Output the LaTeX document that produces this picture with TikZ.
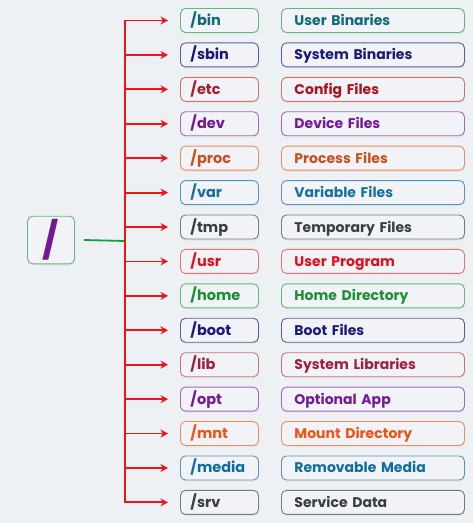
\documentclass[tikz,border=0pt]{standalone}
\usepackage{fontspec}
\setmainfont{Poppins}
\usetikzlibrary{arrows.meta,shadows}

% palette
\definecolor{bg}{HTML}{EEF1F4}
\definecolor{boxfill}{HTML}{F1F3F6}
\definecolor{linkred}{HTML}{F01418}
\definecolor{rootgreen}{HTML}{1E9A3C}
\definecolor{tTeal}{HTML}{0E6A7A}\definecolor{bGreen}{HTML}{62B67E}
\definecolor{tNavy}{HTML}{1A1A7E}\definecolor{bNavy}{HTML}{5A5AA6}
\definecolor{tWine}{HTML}{A21E30}\definecolor{bRose}{HTML}{C97378}
\definecolor{tCrimson}{HTML}{B0101C}
\definecolor{tPurple}{HTML}{741896}\definecolor{bPurple}{HTML}{A664C4}
\definecolor{tRust}{HTML}{C8501C}\definecolor{bPeach}{HTML}{EE8C62}
\definecolor{tBlue}{HTML}{1670A2}\definecolor{bBlue}{HTML}{5A94BA}
\definecolor{tGray}{HTML}{383D44}\definecolor{bGray}{HTML}{737A82}
\definecolor{tRed}{HTML}{E0101E}\definecolor{bRed}{HTML}{E27474}
\definecolor{tGreen}{HTML}{1A8E32}
\definecolor{tLib}{HTML}{A01E42}
\definecolor{tOrange}{HTML}{F05212}
\definecolor{tBlue2}{HTML}{0E6E9E}

\tikzset{
  basebox/.style={draw, rounded corners=5pt, line width=0.9pt, fill=boxfill,
    minimum height=24pt, anchor=west, align=left,
    text height=13pt, text depth=3pt, inner ysep=2pt,
    drop shadow={opacity=0.07, shadow xshift=0.8pt, shadow yshift=-1.8pt}},
  dirbox/.style={basebox, text width=58pt, inner xsep=10pt,
    font=\bfseries\fontsize{14.5}{16}\selectfont},
  descbox/.style={basebox, text width=157pt, inner xsep=13pt,
    font=\bfseries\fontsize{14}{16}\selectfont},
  rootbox/.style={draw=bGreen, rounded corners=5pt, line width=0.9pt, fill=boxfill,
    minimum width=47pt, minimum height=46pt,
    drop shadow={opacity=0.07, shadow xshift=0.8pt, shadow yshift=-1.8pt}},
  branch/.style={draw=linkred, line width=1.8pt},
  feed/.style={branch, -{Stealth[length=7.5pt,width=8pt]}, shorten >=12pt},
  rootlink/.style={draw=rootgreen, line width=1.8pt}
}

\begin{document}
\begin{tikzpicture}[x=1pt,y=-1pt]
  \fill[bg] (0,0) rectangle (473,523);
  \useasboundingbox (0,0) rectangle (473,523);

  % root directory
  \node[rootbox, text=tPurple, font=\bfseries\fontsize{36}{38}\selectfont] (root) at (51,240) {/};
  \coordinate (junction) at (125,241);
  \draw[rootlink] (root.east) ++(9pt,0) -- (junction);

  % directories and what they hold
  \foreach \i/\dir/\desc/\dt/\et/\bc in {
     1/bin/User Binaries/tTeal/tTeal/bGreen,
     2/sbin/System Binaries/tNavy/tNavy/bNavy,
     3/etc/Config Files/tWine/tCrimson/bRose,
     4/dev/Device Files/tPurple/tPurple/bPurple,
     5/proc/Process Files/tRust/tRust/bPeach,
     6/var/Variable Files/tBlue/tBlue/bBlue,
     7/tmp/Temporary Files/tGray/tGray/bGray,
     8/usr/User Program/tRed/tRed/bRed,
     9/home/Home Directory/tGreen/tGreen/bGreen,
    10/boot/Boot Files/tNavy/tNavy/bNavy,
    11/lib/System Libraries/tLib/tLib/bRose,
    12/opt/Optional App/tPurple/tPurple/bPurple,
    13/mnt/Mount Directory/tOrange/tOrange/bPeach,
    14/media/Removable Media/tBlue2/tBlue2/bBlue,
    15/srv/Service Data/tGray/tGray/bGray}{
    \pgfmathsetmacro{\yy}{20.5+(\i-1)*34.42}
    \coordinate (t\i) at (125,\yy);
    \node[dirbox, draw=\bc, text=\dt] (d\i) at (180,\yy) {/\dir};
    \node[descbox, draw=\bc, text=\et] (e\i) at (281,\yy) {\desc};
    \draw[feed] (t\i) -- (d\i.west);
  }

  % trunk
  \draw[branch, line cap=rect] (t1) -- (t15);
\end{tikzpicture}
\end{document}
